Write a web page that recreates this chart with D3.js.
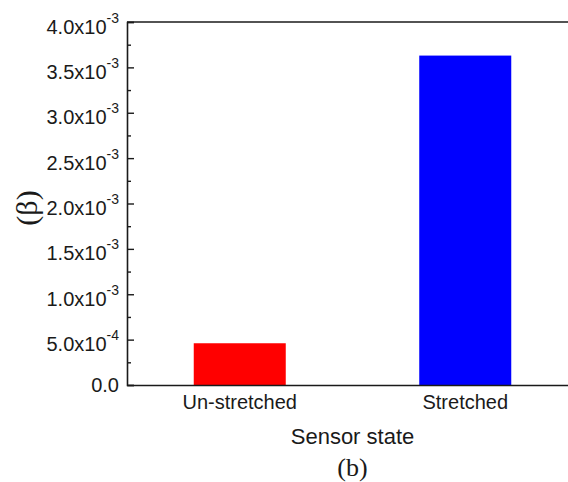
<!DOCTYPE html>
<html>
<head>
<meta charset="utf-8">
<script src="https://cdn.jsdelivr.net/npm/d3@7/dist/d3.min.js"></script>
<style>
  html, body { margin: 0; padding: 0; background: #fff; }
  svg { display: block; overflow: hidden; }
  .sans { font-family: "Liberation Sans", Arial, sans-serif; fill: #1a1a1a; }
  .serif { font-family: "Liberation Serif", "Times New Roman", serif; fill: #1a1a1a; }
</style>
</head>
<body>
<svg id="chart" width="568" height="482"></svg>
<script>
// Coupling coefficient per sensor state
const categories = ["Un-stretched", "Stretched"];
const betaValues = [0.46e-3, 3.63e-3];
const barColors = ["#ff0000", "#0000ff"];

// Y axis ticks and their printed labels (mantissa, exponent)
const majorTicks = [0, 0.5e-3, 1.0e-3, 1.5e-3, 2.0e-3, 2.5e-3, 3.0e-3, 3.5e-3, 4.0e-3];
const tickMantissa = ["0.0", "5.0x10", "1.0x10", "1.5x10", "2.0x10", "2.5x10", "3.0x10", "3.5x10", "4.0x10"];
const tickExponent = ["", "-4", "-3", "-3", "-3", "-3", "-3", "-3", "-3"];
const minorTicks = [0.25e-3, 0.75e-3, 1.25e-3, 1.75e-3, 2.25e-3, 2.75e-3, 3.25e-3, 3.75e-3];

const svg = d3.select("#chart");
const plotLeft = 127, plotRight = 578, plotTop = 22, plotBottom = 385;
const ink = "#1a1a1a";

const x = d3.scaleBand()
  .domain(categories)
  .range([plotLeft, plotRight])
  .paddingInner(0.592)
  .paddingOuter(0.296);

const y = d3.scaleLinear()
  .domain([0, 4.0e-3])
  .range([plotBottom, plotTop]);

// Bars
svg.append("g")
  .selectAll("rect")
  .data(categories)
  .join("rect")
  .attr("x", d => x(d))
  .attr("width", x.bandwidth())
  .attr("y", (d, i) => y(betaValues[i]))
  .attr("height", (d, i) => y(0) - y(betaValues[i]))
  .attr("fill", (d, i) => barColors[i]);

// Top frame line
svg.append("line")
  .attr("x1", plotLeft).attr("x2", plotRight)
  .attr("y1", plotTop).attr("y2", plotTop)
  .attr("stroke", ink).attr("stroke-width", 1.6);

// Y axis: inward major ticks
const yMajor = svg.append("g")
  .attr("transform", `translate(${plotLeft},0)`)
  .call(d3.axisLeft(y).tickValues(majorTicks).tickSize(-7).tickFormat(""));
yMajor.select(".domain").attr("stroke", ink).attr("stroke-width", 1.6);
yMajor.selectAll(".tick line").attr("stroke", ink).attr("stroke-width", 1.4);

// Y axis: inward minor ticks
const yMinor = svg.append("g")
  .attr("transform", `translate(${plotLeft},0)`)
  .call(d3.axisLeft(y).tickValues(minorTicks).tickSize(-4).tickFormat(""));
yMinor.select(".domain").remove();
yMinor.selectAll(".tick line").attr("stroke", ink).attr("stroke-width", 1.4);

// Y tick labels with superscript exponents
const labels = svg.append("g").attr("class", "sans");
majorTicks.forEach((v, i) => {
  const t = labels.append("text")
    .attr("x", plotLeft - 8)
    .attr("y", y(v) + (tickExponent[i] ? 11.5 : 7))
    .attr("text-anchor", "end")
    .attr("font-size", 20);
  t.append("tspan").text(tickMantissa[i]);
  if (tickExponent[i]) {
    t.append("tspan").attr("dy", -11).attr("font-size", 14).text(tickExponent[i]);
  }
});

// X axis
const xAxis = svg.append("g")
  .attr("transform", `translate(0,${plotBottom})`)
  .call(d3.axisBottom(x).tickSize(0).tickPadding(0));
xAxis.select(".domain").attr("stroke", ink).attr("stroke-width", 1.6);
xAxis.selectAll(".tick text")
  .attr("class", "sans")
  .attr("dy", null)
  .attr("y", 24)
  .attr("font-size", 20)
  .attr("fill", ink);

// Axis titles
svg.append("text")
  .attr("class", "sans")
  .attr("x", (plotLeft + plotRight) / 2)
  .attr("y", 444)
  .attr("text-anchor", "middle")
  .attr("font-size", 22)
  .text("Sensor state");

svg.append("text")
  .attr("class", "serif")
  .attr("transform", "translate(37,208) rotate(-90)")
  .attr("text-anchor", "middle")
  .attr("font-size", 30)
  .text("(β)");

svg.append("text")
  .attr("class", "serif")
  .attr("x", (plotLeft + plotRight) / 2)
  .attr("y", 476)
  .attr("text-anchor", "middle")
  .attr("font-size", 26)
  .text("(b)");
</script>
</body>
</html>
